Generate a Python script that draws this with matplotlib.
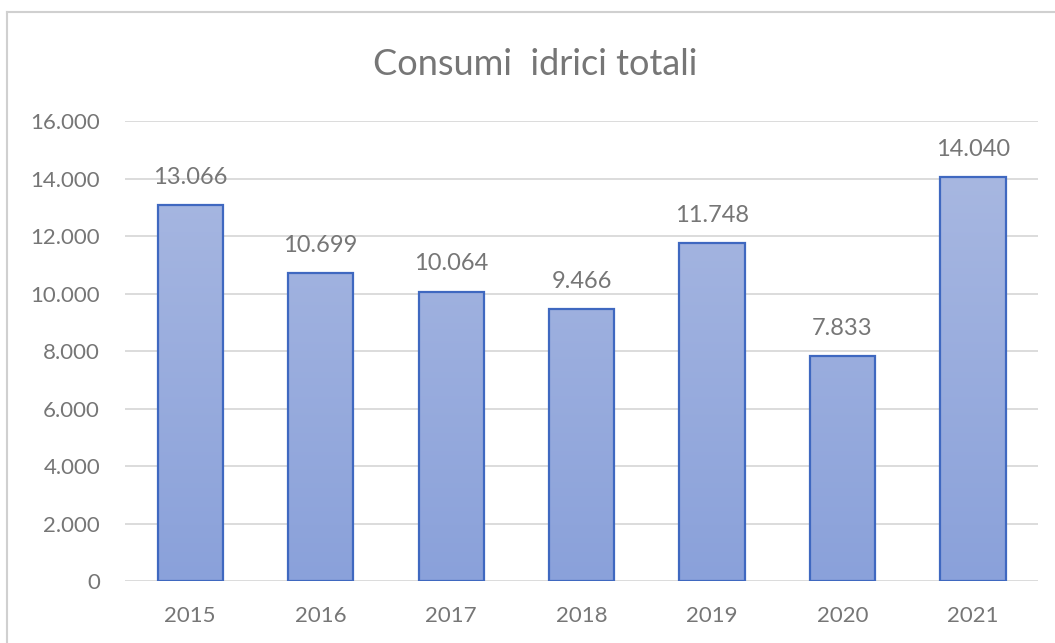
import numpy as np
import matplotlib
matplotlib.use("Agg")
import matplotlib.pyplot as plt
from matplotlib.colors import LinearSegmentedColormap
from matplotlib.ticker import FuncFormatter

# data
anni = ["2015", "2016", "2017", "2018", "2019", "2020", "2021"]
consumi = [13066, 10699, 10064, 9466, 11748, 7833, 14040]
y_ticks = [0, 2000, 4000, 6000, 8000, 10000, 12000, 14000, 16000]

plt.rcParams['font.family'] = ['Lato', 'DejaVu Sans']
text_col = '#767676'

fig = plt.figure(figsize=(10.55, 6.43), dpi=100)
ax = fig.add_axes([0.1185, 0.0964, 0.8655, 0.7154])

x = np.arange(len(anni))
bars = ax.bar(x, consumi, width=0.5, color='none', edgecolor='#3F68C0', linewidth=1.6, zorder=3)

# vertical gradient fill clipped to each bar
cmap = LinearSegmentedColormap.from_list('grad', ['#8AA1DA', '#ABBAE2'])
grad = np.linspace(0, 1, 256).reshape(-1, 1)
for b in bars:
    bx, w = b.get_x(), b.get_width()
    im = ax.imshow(grad, extent=[bx, bx + w, 0, 16000], origin='lower', aspect='auto',
                   cmap=cmap, zorder=2)
    im.set_clip_path(b)

ax.set_xlim(-0.5, len(anni) - 0.5)
ax.set_ylim(0, 16000)
ax.set_yticks(y_ticks)
ax.yaxis.set_major_formatter(FuncFormatter(lambda v, p: f"{int(v):,}".replace(",", ".")))
ax.set_xticks(x)
ax.set_xticklabels(anni)
ax.grid(axis='y', color='#D9D9D9', linewidth=1.3, zorder=0)
ax.set_axisbelow(True)
for s in ax.spines.values():
    s.set_visible(False)
ax.tick_params(axis='both', length=0, labelsize=16, colors=text_col)
ax.tick_params(axis='x', pad=18)
ax.tick_params(axis='y', pad=18)

for xi, v in zip(x, consumi):
    ax.annotate(f"{v:,}".replace(",", "."), (xi, v), xytext=(0, 20), textcoords='offset points',
                ha='center', va='center', fontsize=17, color=text_col)

fig.text(0.507, 0.899, "Consumi  idrici totali", ha='center', va='center', fontsize=26, color=text_col)

# outer chart border
fig.add_artist(plt.Line2D([7 / 1055, 7 / 1055], [0, 1 - 12 / 643], color='#D0D0D0', linewidth=1.5))
fig.add_artist(plt.Line2D([7 / 1055, 1], [1 - 12 / 643, 1 - 12 / 643], color='#D0D0D0', linewidth=1.5))

fig.savefig('out.png', dpi=100)
